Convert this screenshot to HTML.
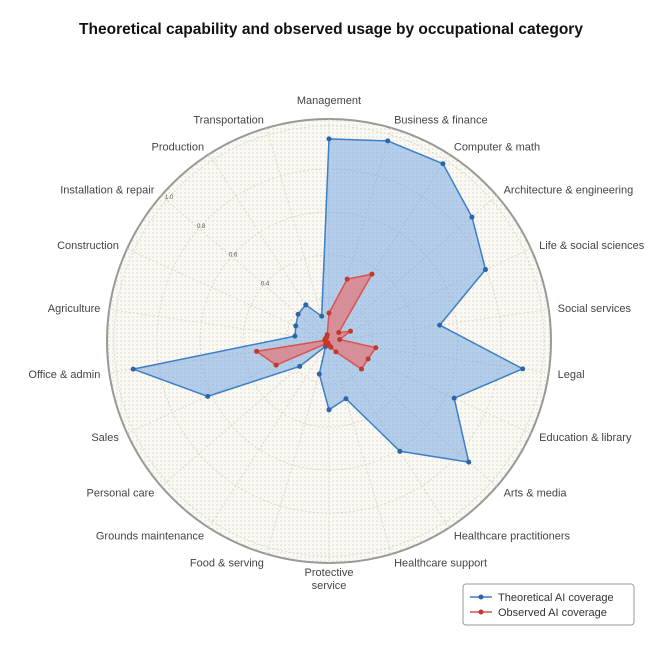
<!DOCTYPE html>
<html><head><meta charset="utf-8"><style>
html,body{margin:0;padding:0;background:#fff;}
svg{display:block;font-family:"Liberation Sans",sans-serif;}
</style></head><body>
<svg id="chart" width="662" height="662" viewBox="0 0 662 662">
<defs>
<pattern id="dots" width="4" height="4" patternUnits="userSpaceOnUse"><rect width="4" height="4" fill="#faf9f4"/><circle cx="1" cy="1" r="0.6" fill="#c9c6b4"/></pattern>
</defs>
<text x="331" y="34" text-anchor="middle" font-size="15.5" font-weight="bold" fill="#111">Theoretical capability and observed usage by occupational category</text>
<g id="grid"></g>
<g id="series"></g>
<g id="labels"></g>
<g>
<rect x="463" y="584" width="171" height="41" rx="3" fill="#fff" stroke="#999" stroke-width="1"/>
<g>
<line x1="470" y1="597" x2="492" y2="597" stroke="#3d7fc4" stroke-width="1.5"/><circle cx="481" cy="597" r="2.5" fill="#2a66a8"/>
<text x="498" y="601" font-size="11" fill="#333">Theoretical AI coverage</text></g>
<g>
<line x1="470" y1="612" x2="492" y2="612" stroke="#d9534f" stroke-width="1.5"/><circle cx="481" cy="612" r="2.5" fill="#c0392b"/>
<text x="498" y="616" font-size="11" fill="#333">Observed AI coverage</text></g>
</g>
</svg>
<script>
const categories=["Management","Business & finance","Computer & math","Architecture & engineering","Life & social sciences","Social services","Legal","Education & library","Arts & media","Healthcare practitioners","Healthcare support","Protective service","Food & serving","Grounds maintenance","Personal care","Sales","Office & admin","Agriculture","Construction","Installation & repair","Production","Transportation"];
const theoretical=[0.94,0.97,0.98,0.88,0.80,0.52,0.91,0.64,0.86,0.61,0.28,0.32,0.16,0.03,0.18,0.62,0.92,0.16,0.17,0.19,0.20,0.12];
const observed=[0.13,0.30,0.37,0.06,0.11,0.05,0.22,0.20,0.20,0.06,0.03,0.02,0.02,0.01,0.02,0.27,0.34,0.02,0.02,0.02,0.02,0.03];
const ticks=[0.4,0.6,0.8,1.0];
const tickLabels=["0.4","0.6","0.8","1.0"];
const NS="http://www.w3.org/2000/svg";
const cx=329,cy=341,R1=215,Rout=222;
const ang=i=>i*2*Math.PI/categories.length;
const rs=v=>v*R1;
const px=(i,v)=>cx+rs(v)*Math.sin(ang(i));
const py=(i,v)=>cy-rs(v)*Math.cos(ang(i));
function mk(tag,attrs,parent){const e=document.createElementNS(NS,tag);for(const k in attrs)e.setAttribute(k,attrs[k]);parent.appendChild(e);return e;}
const grid=document.getElementById('grid');
const bg=mk('circle',{cx:cx,cy:cy,r:Rout,fill:'url(#dots)',stroke:'#999','stroke-width':2},grid);


[0.2,0.4,0.6,0.8,1.0].forEach(t=>{const c=mk('circle',{cx:cx,cy:cy,r:rs(t),fill:'none',stroke:'#d5d2c4','stroke-width':0.8,'stroke-dasharray':'2,2'},grid);

});
categories.forEach((c,i)=>{const l=mk('line',{x1:cx,y1:cy,x2:px(i,Rout/R1),y2:py(i,Rout/R1),stroke:'#d5d2c4','stroke-width':0.8,'stroke-dasharray':'2,2'},grid);

});
const tAng=312*Math.PI/180;
ticks.forEach((t,k)=>{const e=mk('text',{x:cx+rs(t)*Math.sin(tAng),y:cy-rs(t)*Math.cos(tAng)+2,'font-size':6,'text-anchor':'middle',fill:'#555'},grid);e.textContent=tickLabels[k];

});
const ser=document.getElementById('series');
function drawSeries(vals,fill,stroke,dot,name){
const pts=vals.map((v,i)=>px(i,v).toFixed(1)+','+py(i,v).toFixed(1)).join(' ');
const p=mk('polygon',{points:pts,fill:fill,stroke:stroke,'stroke-width':1.5,'stroke-linejoin':'round'},ser);


vals.forEach((v,i)=>{const c=mk('circle',{cx:px(i,v),cy:py(i,v),r:2.5,fill:dot},ser);

});}
drawSeries(theoretical,'rgba(120,170,225,0.55)','#3d7fc4','#2a66a8','theoretical');
drawSeries(observed,'rgba(235,110,110,0.65)','#d9534f','#c0392b','observed');
const lab=document.getElementById('labels');
const LR=231;
categories.forEach((c,i)=>{const a=ang(i),s=Math.sin(a),co=Math.cos(a);
let x=cx+LR*s,y=cy-LR*co+4;let anchor=Math.abs(s)<0.15?'middle':(s>0?'start':'end');
if(i===0)y-=10;
const e=mk('text',{x:x,y:y,'font-size':11,'text-anchor':anchor,fill:'#444'},lab);


if(c==="Protective service"){const t1=mk('tspan',{x:x,dy:0},e);t1.textContent="Protective";const t2=mk('tspan',{x:x,dy:13},e);t2.textContent="service";}
else e.textContent=c;});
</script>
</body></html>
